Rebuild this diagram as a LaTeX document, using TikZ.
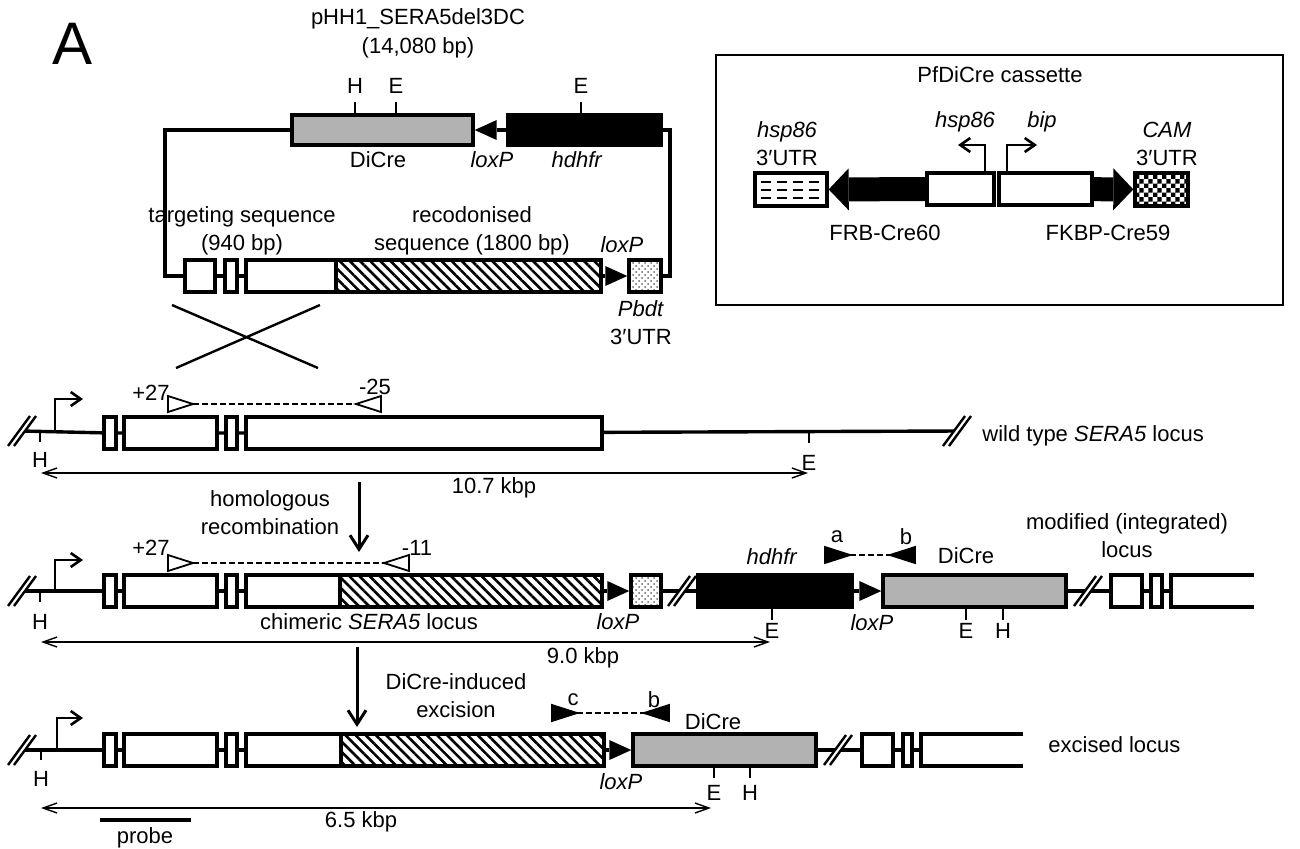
\documentclass[tikz,border=0pt]{standalone}
\usepackage{fontspec}
\setmainfont{Liberation Sans}
\usetikzlibrary{arrows.meta,positioning,fit,patterns,patterns.meta}
\definecolor{creGray}{gray}{0.7}
% fine checker for the CAM 3'UTR
\pgfdeclarepatternformonly{camcheck}{\pgfqpoint{0pt}{0pt}}{\pgfqpoint{4.4pt}{4.4pt}}{\pgfqpoint{4.4pt}{4.4pt}}{%
  \pgfpathrectangle{\pgfqpoint{0pt}{0pt}}{\pgfqpoint{2.2pt}{2.2pt}}%
  \pgfpathrectangle{\pgfqpoint{2.2pt}{2.2pt}}{\pgfqpoint{2.2pt}{2.2pt}}%
  \pgfusepath{fill}}
% primer triangles, tip at the named coordinate
\newcommand{\primerR}[2][fill=white]{\draw[primer,#1] (#2) -- ++(-25,-8) -- ++(0,16) -- cycle;}
\newcommand{\primerL}[2][fill=white]{\draw[primer,#1] (#2) -- ++(25,-8) -- ++(0,16) -- cycle;}

\begin{document}
\begin{tikzpicture}[x=0.5pt, y=-0.5pt, node distance=3pt,
    every node/.style = {font=\fontsize{11}{14}\selectfont, inner sep=0pt, align=center},
           dna/.style = {line width=1.7pt},
           box/.style = {draw, line width=1.7pt, inner sep=0pt},
          gene/.style = {box, fill=white},
         hatch/.style = {box, pattern={Lines[angle=-45,distance=3.6pt,line width=1.3pt]}},
       stipple/.style = {box, pattern=crosshatch dots, pattern color=black!60},
          loxp/.style = {line width=1.7pt, -{Triangle[length=11pt,width=10pt,line width=0pt]}},
      blockarr/.style = {line width=12pt, -{Triangle[length=10pt,width=21pt,line width=0pt]}},
          tick/.style = {line width=1pt},
          prom/.style = {line width=1.3pt, -{Straight Barb[length=5pt,width=7pt]}},
           dim/.style = {line width=0.7pt, {Straight Barb[length=7pt,width=5pt]}-{Straight Barb[length=7pt,width=5pt]}},
          down/.style = {line width=1.5pt, -{Straight Barb[length=7pt,width=9pt]}},
         pdash/.style = {line width=1pt, dash pattern=on 3pt off 1.5pt},
        primer/.style = {line width=0.9pt, line join=miter},
           brk/.pic   = {\fill[white] (-14,15) -- (8,-15) -- (14,-15) -- (-8,15) -- cycle;
                         \draw[line width=1.2pt] (-14,15) -- (8,-15) (-8,15) -- (14,-15);},
]
\useasboundingbox (0,0) rectangle (1300,848);
\node[font=\fontsize{30}{36}\selectfont] (panel) at (73,44) {A};

%% plasmid
\node (plasmid) at (418,33) {pHH1\_SERA5del3DC\\[0.5pt](14,080 bp)};
\node[box, fill=creGray, fit={(292,115) (473,145)}] (pDiCre) {};
\node[box, fill=black, fit={(508,115) (661,145)}]   (pHdhfr) {};
\node[gene,    fit={(185,260) (215,292)}] (pT1) {};
\node[gene,    fit={(225,260) (237,292)}] (pT2) {};
\node[gene,    fit={(246,260) (336,292)}] (pT3) {};
\node[hatch,   fit={(336,260) (601,292)}] (pRec) {};
\node[stipple, fit={(629,260) (661,292)}] (pUtr) {};
\coordinate (pTL) at (165,130); \coordinate (pBL) at (165,276);
\coordinate (pTR) at (670,130); \coordinate (pBR) at (670,276);
\draw[dna] (pDiCre.west) -- (pTL) -- (pBL) -- (pT1.west);
\draw[dna] (pHdhfr.east) -- (pTR) -- (pBR) -- (pUtr.east);
\draw[dna] (pT1) -- (pT2) (pT2) -- (pT3);
\draw[loxp] (pHdhfr) -- (pDiCre);
\draw[loxp] (pRec) -- (pUtr);
\draw[tick] (355,115) -- (355,102) node[above=4pt] {H};
\draw[tick] (396,115) -- (396,102) node[above=4pt] {E};
\draw[tick] (581,115) -- (581,102) node[above=4pt] {E};
\node at (378,160) {DiCre};
\node at (492,160) {\textit{loxP}};
\node at (577,160) {\textit{hdhfr}};
\node at (242,231) {targeting sequence\\(940 bp)};
\node at (472,231) {recodonised\\sequence (1800 bp)};
\node at (622,245) {\textit{loxP}};
\node at (641,323) {\textit{Pbdt}\\3′UTR};
\draw[line width=1.2pt] (172,305) -- (318,368) (320,305) -- (176,368);

%% PfDiCre cassette
\node[draw, line width=0.7pt, inner sep=0pt, fit={(716,55) (1283,305)}] (cas) {};
\node at (1000,75) {PfDiCre cassette};
\node[gene, fit={(755,173) (827,206)}]  (hspU) {};
\node[gene, fit={(927,173) (994,205)}]  (frb) {};
\node[gene, fit={(999,173) (1092,205)}] (fkbp) {};
\node[box, pattern=camcheck, fit={(1135,173) (1188,206)}] (camU) {};
\draw[blockarr] (frb) -- (hspU);
\draw[blockarr] (fkbp) -- (camU);
\foreach \y in {182,190,198}
  \draw[line width=0.8pt, dash pattern=on 5pt off 3pt] (761,\y) -- (822,\y);
\coordinate (hspP) at (985,145); \coordinate (bipP) at (1007,145);
\draw[prom] (985,173) -- (hspP) -- (958,145);
\draw[prom] (1007,173) -- (bipP) -- (1037,145);
\node at (965,122) {\textit{hsp86}};
\node at (1042,122) {\textit{bip}};
\node at (787,144) {\textit{hsp86}\\3′UTR};
\node at (1167,144) {\textit{CAM}\\3′UTR};
\node at (885,233) {FRB-Cre60};
\node at (1108,233) {FKBP-Cre59};

%% wild type locus
\coordinate (wtL) at (22,431); \coordinate (wtR) at (957,431);
\node[gene, fit={(104,417) (116,449)}] (w1) {};
\node[gene, fit={(124,417) (217,449)}] (w2) {};
\node[gene, fit={(226,417) (237,449)}] (w3) {};
\node[gene, fit={(246,417) (602,449)}] (w4) {};
\draw[dna] (wtL) -- (w1) (w1) -- (w2) (w2) -- (w3) (w3) -- (w4) (w4) -- (wtR);
\pic at (wtL) {brk}; \pic at (wtR) {brk};
\draw[prom] (55,431) |- (83,399);
\draw[tick] (40,431) -- (40,442); \node at (40,460) {H};
\draw[tick] (809,431) -- (809,443); \node at (809,463) {E};
\coordinate (wtF) at (193,404); \coordinate (wtB) at (356,404);
\draw[pdash] (wtF) -- (wtB);
\primerR{wtF} \primerL{wtB}
\node at (151,393) {+27}; \node at (375,387) {-25};
\coordinate (d1a) at (41,473); \coordinate (d1b) at (808,473);
\draw[dim] (d1a) -- (d1b);
\node at (494,488) {10.7 kbp};
\node[anchor=west] at (982,436) {wild type \textit{SERA5} locus};

\coordinate (hrA) at (359,482); \coordinate (hrB) at (359,552);
\draw[down] (hrA) -- (hrB);
\node at (270,513) {homologous\\recombination};

%% integrated locus
\coordinate (inL) at (22,591);
\node[gene,  fit={(104,575) (116,607)}] (c1) {};
\node[gene,  fit={(124,575) (217,607)}] (c2) {};
\node[gene,  fit={(226,575) (237,607)}] (c3) {};
\node[gene,  fit={(246,575) (340,607)}] (c4) {};
\node[hatch, fit={(340,575) (602,607)}] (c5) {};
\node[stipple, fit={(631,575) (661,607)}] (cUtr) {};
\node[box, fill=black, fit={(698,575) (852,607)}] (cHdhfr) {};
\node[box, fill=creGray, fit={(883,575) (1066,607)}] (cDiCre) {};
\node[gene, fit={(1111,575) (1142,607)}] (c6) {};
\node[gene, fit={(1151,575) (1162,607)}] (c7) {};
\coordinate (c8) at (1171,591);
\draw[dna] (inL) -- (c1) (c1) -- (c2) (c2) -- (c3) (c3) -- (c4);
\draw[loxp] (c5) -- (cUtr);
\draw[dna] (cUtr) -- (cHdhfr);
\draw[loxp] (cHdhfr) -- (cDiCre);
\draw[dna] (cDiCre) -- (c6) (c6) -- (c7) (c7) -- (c8);
\draw[dna] (1254,575) -| (c8) |- (1254,607);
\pic at (inL) {brk}; \pic at (682,591) {brk}; \pic at (1088,591) {brk};
\draw[prom] (55,591) |- (83,560);
\draw[tick] (40,591) -- (40,602); \node at (40,622) {H};
\draw[tick] (772,607) -- (772,620); \node at (772,631) {E};
\draw[tick] (966,607) -- (966,620); \node at (966,631) {E};
\draw[tick] (1003,607) -- (1003,620); \node at (1003,631) {H};
\coordinate (inF) at (193,563); \coordinate (inB) at (384,563);
\draw[pdash] (inF) -- (inB);
\primerR{inF} \primerL{inB}
\node at (151,548) {+27}; \node at (417,548) {-11};
\coordinate (aF) at (850,555); \coordinate (bB) at (890,555);
\draw[pdash] (aF) -- (bB);
\primerR[fill=black]{aF} \primerL[fill=black]{bB}
\node at (837,537) {a}; \node at (906,537) {b};
\node at (772,557) {\textit{hdhfr}};
\node at (966,556) {DiCre};
\node at (369,622) {chimeric \textit{SERA5} locus};
\node at (618,622) {\textit{loxP}};
\node at (872,623) {\textit{loxP}};
\node at (1127,536) {modified (integrated)\\locus};
\coordinate (d2a) at (41,642); \coordinate (d2b) at (770,642);
\draw[dim] (d2a) -- (d2b);
\node at (583,658) {9.0 kbp};

\coordinate (exA) at (357,647); \coordinate (exB) at (357,727);
\draw[down] (exA) -- (exB);
\node at (456,696) {DiCre-induced\\excision};

%% excised locus
\coordinate (exL) at (22,750);
\node[gene,  fit={(104,734) (116,766)}] (x1) {};
\node[gene,  fit={(124,734) (217,766)}] (x2) {};
\node[gene,  fit={(226,734) (237,766)}] (x3) {};
\node[gene,  fit={(246,734) (341,766)}] (x4) {};
\node[hatch, fit={(341,734) (604,766)}] (x5) {};
\node[box, fill=creGray, fit={(633,734) (816,766)}] (xDiCre) {};
\node[gene, fit={(862,734) (893,766)}] (x6) {};
\node[gene, fit={(903,734) (912,766)}] (x7) {};
\coordinate (x8) at (921,750);
\draw[dna] (exL) -- (x1) (x1) -- (x2) (x2) -- (x3) (x3) -- (x4);
\draw[loxp] (x5) -- (xDiCre);
\draw[dna] (xDiCre) -- (x6) (x6) -- (x7) (x7) -- (x8);
\draw[dna] (1023,734) -| (x8) |- (1023,766);
\pic at (exL) {brk}; \pic at (838,750) {brk};
\draw[prom] (57,750) |- (83,718);
\draw[tick] (41,750) -- (41,760); \node at (41,779) {H};
\draw[tick] (714,766) -- (714,778); \node at (714,793) {E};
\draw[tick] (750,766) -- (750,778); \node at (750,793) {H};
\coordinate (cF) at (577,713); \coordinate (cB) at (644,713);
\draw[pdash] (cF) -- (cB);
\primerR[fill=black]{cF} \primerL[fill=black]{cB}
\node at (573,700) {c}; \node at (654,700) {b};
\node at (713,722) {DiCre};
\node at (621,782) {\textit{loxP}};
\node[anchor=west] at (1048,745) {excised locus};
\coordinate (d3a) at (41,808); \coordinate (d3b) at (711,808);
\draw[dim] (d3a) -- (d3b);
\node at (361,822) {6.5 kbp};
\coordinate (prA) at (100,820); \coordinate (prB) at (191,820);
\draw[line width=1.7pt] (prA) -- (prB);
\node at (145,838) {probe};
\end{tikzpicture}
\end{document}
